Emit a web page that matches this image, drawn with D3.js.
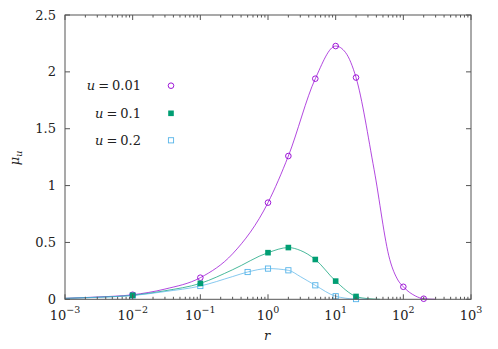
<!DOCTYPE html>
<html><head><meta charset="utf-8">
<script src="https://cdn.jsdelivr.net/npm/d3@7"></script>
<style>body{margin:0;background:#fff;} svg{display:block;}</style>
</head><body>
<svg id="c" width="498" height="349"></svg>
<script>
// ---- data ----
const seriesNames = ["u", "u", "u"];
const seriesValuesText = ["0.01", "0.1", "0.2"];
const seriesColors = ["#9400d3", "#009e73", "#56b4e9"];
// markers
const r001 = [0.01, 0.1, 1, 2, 5, 10, 20, 100, 200];
const mu001 = [0.04, 0.19, 0.85, 1.26, 1.94, 2.227, 1.95, 0.11, 0.005];
const r01 = [0.01, 0.1, 1, 2, 5, 10, 20];
const mu01 = [0.035, 0.14, 0.41, 0.455, 0.35, 0.16, 0.025];
const r02 = [0.01, 0.1, 0.5, 1, 2, 5, 10, 20];
const mu02 = [0.033, 0.117, 0.24, 0.27, 0.255, 0.123, 0.027, 0.002];
// curve samples
const cr001 = [0.001, 0.003, 0.01, 0.03, 0.1, 0.3, 1, 2, 5, 10, 14, 20, 37, 63, 83, 100, 150, 200, 300];
const cmu001 = [0.008, 0.02, 0.04, 0.09, 0.19, 0.40, 0.85, 1.26, 1.94, 2.227, 2.17, 1.95, 1.14, 0.35, 0.17, 0.11, 0.03, 0.005, 0.0];
const cr01 = [0.001, 0.003, 0.01, 0.03, 0.1, 0.3, 1, 2, 3, 5, 10, 20, 30, 45];
const cmu01 = [0.008, 0.018, 0.035, 0.075, 0.14, 0.26, 0.41, 0.455, 0.43, 0.35, 0.16, 0.025, 0.006, 0.0];
const cr02 = [0.001, 0.003, 0.01, 0.03, 0.1, 0.3, 0.5, 1, 2, 3, 5, 10, 20, 30];
const cmu02 = [0.008, 0.017, 0.033, 0.068, 0.117, 0.2, 0.24, 0.27, 0.255, 0.2, 0.123, 0.027, 0.002, 0.0];
const xTickExps = [-3, -2, -1, 0, 1, 2, 3];
const yTicks = [0, 0.5, 1, 1.5, 2, 2.5];
const yTickLabels = ["0", "0.5", "1", "1.5", "2", "2.5"];

const FONT = "DejaVu Serif";
const svg = d3.select("#c");
const L = 65, R = 471, T = 15, B = 299.3;
const x = d3.scaleLog().domain([1e-3, 1e3]).range([L, R]);
const y = d3.scaleLinear().domain([0, 2.5]).range([B, T]);
const axisColor = "#555";
const txt = (sel) => sel.append("text").style("font-family", FONT).attr("fill", "#222");

// curves
const line = d3.line().x(d => x(d[0])).y(d => y(d[1])).curve(d3.curveMonotoneX);
const curves = [[cr001, cmu001], [cr01, cmu01], [cr02, cmu02]];
svg.append("clipPath").attr("id", "pc").append("rect").attr("x", L).attr("y", T).attr("width", R - L).attr("height", B - T + 1);
const g = svg.append("g").attr("clip-path", "url(#pc)");
curves.forEach((c, i) => {
  g.append("path").datum(c[0].map((r, k) => [r, c[1][k]]))
    .attr("d", line).attr("fill", "none").attr("stroke", seriesColors[i]).attr("stroke-width", 0.9).attr("opacity", 0.8);
});

// markers
function drawMarker(sel, type, color, cx, cy) {
  if (type === 0) sel.append("circle").attr("cx", cx).attr("cy", cy).attr("r", 2.8).attr("fill", "none").attr("stroke", color).attr("stroke-width", 0.9);
  else if (type === 1) sel.append("rect").attr("x", cx - 2.8).attr("y", cy - 2.8).attr("width", 5.6).attr("height", 5.6).attr("fill", color);
  else sel.append("rect").attr("x", cx - 2.6).attr("y", cy - 2.6).attr("width", 5.2).attr("height", 5.2).attr("fill", "none").attr("stroke", color).attr("stroke-width", 0.9);
}
const marks = [[r001, mu001], [r01, mu01], [r02, mu02]];
const mg = svg.append("g");
[2, 0, 1].forEach(i => {
  marks[i][0].forEach((r, k) => drawMarker(mg, i, seriesColors[i], x(r), y(marks[i][1][k])));
});

// axes frame
const ax = svg.append("g");
ax.append("rect").attr("x", L).attr("y", T).attr("width", R - L).attr("height", B - T).attr("fill", "none").attr("stroke", axisColor).attr("stroke-width", 1);
xTickExps.forEach(e => {
  const px = x(Math.pow(10, e));
  ax.append("line").attr("x1", px).attr("x2", px).attr("y1", B).attr("y2", B - 5).attr("stroke", axisColor);
  ax.append("line").attr("x1", px).attr("x2", px).attr("y1", T).attr("y2", T + 5).attr("stroke", axisColor);
  if (e < 3) for (let m = 2; m <= 9; m++) {
    const mx = x(m * Math.pow(10, e));
    ax.append("line").attr("x1", mx).attr("x2", mx).attr("y1", B).attr("y2", B - 2.5).attr("stroke", axisColor);
    ax.append("line").attr("x1", mx).attr("x2", mx).attr("y1", T).attr("y2", T + 2.5).attr("stroke", axisColor);
  }
  const t = txt(ax).attr("x", px).attr("y", 320).attr("text-anchor", "middle").attr("font-size", 13);
  t.append("tspan").text("10");
  t.append("tspan").attr("dy", -7).attr("font-size", 9.5).text(e < 0 ? "\u2212" + (-e) : String(e));
});
yTicks.forEach((v, i) => {
  const py = y(v);
  ax.append("line").attr("x1", L).attr("x2", L + 5).attr("y1", py).attr("y2", py).attr("stroke", axisColor);
  ax.append("line").attr("x1", R).attr("x2", R - 5).attr("y1", py).attr("y2", py).attr("stroke", axisColor);
  txt(ax).attr("x", 56).attr("y", py + 4.5).attr("text-anchor", "end").attr("font-size", 13).text(yTickLabels[i]);
});
txt(ax).attr("x", 267).attr("y", 340).attr("text-anchor", "middle").attr("font-size", 13).attr("font-style", "italic").text("r");
const yl = txt(ax).attr("transform", "translate(19,158) rotate(-90)").attr("text-anchor", "middle").attr("font-size", 13);
yl.append("tspan").attr("font-style", "italic").text("\u03bc");
yl.append("tspan").attr("font-style", "italic").attr("font-size", 9.5).attr("dy", 3).text("u");

// legend
const legY = [85.7, 113.3, 140.3];
seriesNames.forEach((s, i) => {
  const t = txt(svg).attr("x", 141).attr("y", legY[i] + 4.5).attr("text-anchor", "end").attr("font-size", 13);
  t.append("tspan").attr("font-style", "italic").text(s);
  t.append("tspan").attr("dx", 3).text("=");
  t.append("tspan").attr("dx", 3).text(seriesValuesText[i]);
  drawMarker(svg, i, seriesColors[i], 171, legY[i]);
});
</script>
</body></html>
